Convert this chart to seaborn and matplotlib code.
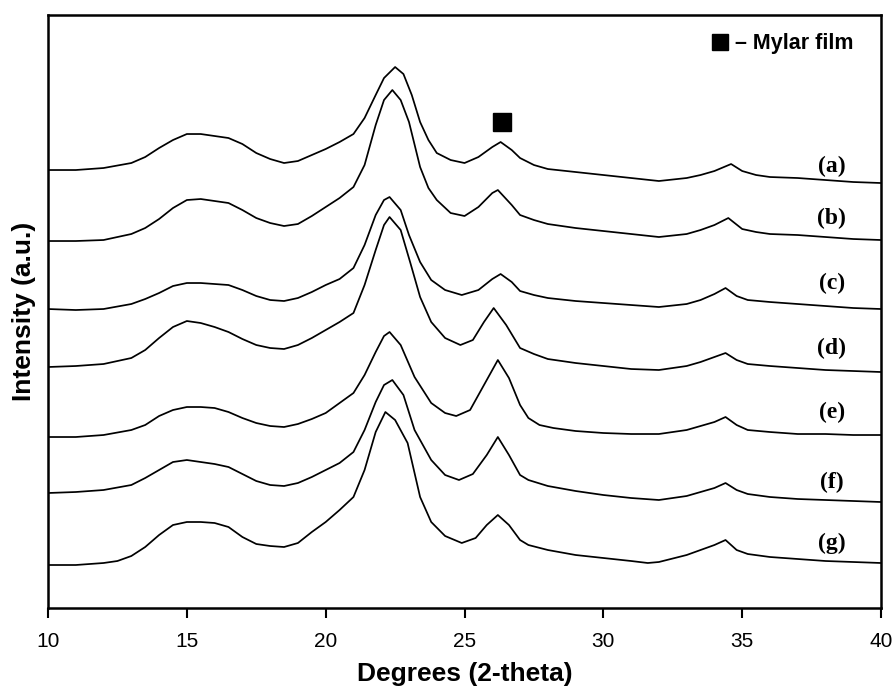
import matplotlib
matplotlib.use("Agg")
import matplotlib.pyplot as plt
import seaborn as sns
import pandas as pd
from matplotlib.lines import Line2D

# XRD patterns; intensity in a.u., traces already stacked
x_a = [10, 11, 12, 13, 13.5, 14, 14.5, 15, 15.5, 16, 16.5, 17, 17.5, 18, 18.5, 19, 19.5, 20, 20.5, 21,
       21.4, 21.8, 22.1, 22.5, 22.8, 23.1, 23.4, 23.7, 24, 24.5, 25, 25.5, 26, 26.3, 26.7, 27, 27.5, 28, 29, 30,
       31, 32, 33, 33.5, 34, 34.6, 35, 35.5, 36, 37, 38, 39, 40]
int_a = [438, 438, 440, 445, 451, 460, 468, 474, 474, 472, 470, 464, 455, 449, 445, 447, 453, 459, 466, 474,
         490, 513, 530, 541, 534, 513, 486, 468, 455, 448, 445, 451, 461, 466, 458, 450, 443, 439, 436, 433,
         430, 427, 430, 433, 437, 444, 437, 433, 431, 430, 428, 426, 425]

x_b = [10, 11, 12, 13, 13.5, 14, 14.5, 15, 15.5, 16, 16.5, 17, 17.5, 18, 18.5, 19, 19.5, 20, 20.5, 21,
       21.4, 21.8, 22.1, 22.4, 22.7, 23, 23.4, 23.7, 24, 24.5, 25, 25.5, 26, 26.2, 26.7, 27, 27.5, 28, 29, 30,
       31, 32, 33, 33.5, 34, 34.5, 35, 35.5, 36, 37, 38, 39, 40]
int_b = [367, 367, 368, 374, 380, 389, 400, 408, 409, 407, 405, 398, 390, 385, 382, 384, 392, 401, 410, 421,
         443, 483, 508, 518, 508, 486, 441, 420, 408, 395, 392, 401, 415, 418, 403, 393, 388, 384, 380, 377,
         374, 371, 374, 378, 383, 390, 379, 376, 374, 373, 371, 369, 368]

x_c = [10, 11, 12, 13, 13.5, 14, 14.5, 15, 15.5, 16, 16.5, 17, 17.5, 18, 18.5, 19, 19.5, 20, 20.5, 21,
       21.4, 21.8, 22.1, 22.3, 22.7, 23, 23.4, 23.8, 24.3, 24.9, 25.5, 26, 26.3, 26.7, 27, 27.5, 28, 29, 30, 31,
       32, 33, 33.5, 34, 34.4, 34.8, 35.2, 36, 37, 38, 39, 40]
int_c = [299, 298, 299, 304, 309, 315, 322, 325, 325, 324, 323, 318, 312, 308, 307, 310, 316, 323, 329, 340,
         363, 393, 408, 411, 398, 373, 346, 328, 318, 313, 318, 329, 334, 326, 317, 313, 310, 307, 305, 303,
         301, 304, 308, 314, 320, 312, 308, 306, 304, 302, 300, 299]

x_d = [10, 11, 12, 13, 13.5, 14, 14.5, 15, 15.5, 16, 16.5, 17, 17.5, 18, 18.5, 19, 19.5, 20, 20.5, 21,
       21.4, 21.8, 22.1, 22.3, 22.7, 23.05, 23.4, 23.8, 24.3, 24.85, 25.3, 25.7, 26.05, 26.5, 27, 27.5, 28, 29, 30, 31,
       32, 33, 33.5, 34, 34.4, 34.8, 35.2, 36, 37, 38, 39, 40]
int_d = [241, 242, 244, 250, 258, 270, 281, 287, 285, 281, 276, 269, 263, 260, 259, 263, 270, 278, 286, 295,
         323, 358, 383, 391, 378, 345, 311, 286, 270, 263, 268, 286, 300, 283, 260, 254, 249, 245, 242, 239,
         238, 242, 246, 251, 255, 248, 244, 242, 240, 238, 237, 236]

x_e = [10, 11, 12, 13, 13.5, 14, 14.5, 15, 15.5, 16, 16.5, 17, 17.5, 18, 18.5, 19, 19.5, 20, 20.5, 21,
       21.4, 21.8, 22.1, 22.3, 22.7, 23.2, 23.8, 24.3, 24.7, 25.2, 25.7, 26.2, 26.6, 27, 27.3, 27.7, 28.2, 29, 30, 31,
       32, 33, 33.5, 34, 34.4, 34.8, 35.2, 36, 37, 38, 39, 40]
int_e = [171, 171, 173, 178, 183, 192, 198, 201, 201, 200, 196, 190, 185, 182, 181, 184, 189, 195, 205, 215,
         233, 256, 272, 276, 263, 231, 205, 195, 192, 198, 223, 248, 230, 203, 190, 183, 180, 177, 175, 174,
         174, 178, 182, 186, 191, 183, 178, 176, 174, 174, 173, 173]

x_f = [10, 11, 12, 13, 13.5, 14, 14.5, 15, 15.5, 16, 16.5, 17, 17.5, 18, 18.5, 19, 19.5, 20, 20.5, 21,
       21.4, 21.8, 22.1, 22.4, 22.8, 23.2, 23.8, 24.3, 24.8, 25.3, 25.8, 26.2, 26.6, 27, 27.3, 28, 29, 30, 31, 32,
       33, 33.5, 34, 34.4, 34.8, 35.2, 36, 37, 38, 39, 40]
int_f = [115, 116, 118, 123, 130, 138, 146, 148, 146, 144, 141, 134, 127, 123, 122, 125, 131, 138, 145, 156,
         178, 206, 223, 228, 213, 178, 148, 133, 128, 134, 153, 171, 153, 133, 128, 122, 117, 113, 110, 108,
         112, 116, 120, 125, 118, 114, 111, 109, 108, 107, 106]

x_g = [10, 11, 12, 12.5, 13, 13.5, 14, 14.5, 15, 15.5, 16, 16.5, 17, 17.5, 18, 18.5, 19, 19.5, 20, 20.5,
       21, 21.4, 21.8, 22.15, 22.5, 22.95, 23.4, 23.8, 24.3, 24.9, 25.4, 25.8, 26.2, 26.6, 27, 27.3, 28, 29, 30, 31,
       31.6, 32, 33, 33.5, 34, 34.4, 34.8, 35.2, 36, 37, 38, 39, 40]
int_g = [43, 43, 45, 47, 52, 61, 73, 83, 86, 86, 85, 81, 71, 64, 62, 61, 65, 76, 86, 98,
         111, 138, 176, 196, 188, 165, 111, 86, 72, 65, 70, 83, 93, 83, 68, 63, 58, 53, 50, 47,
         45, 46, 53, 58, 63, 68, 58, 54, 51, 49, 47, 46, 45]

sample_labels = ['(a)', '(b)', '(c)', '(d)', '(e)', '(f)', '(g)']

# Mylar film reflection marked above trace (a)
mylar_x = [26.35]
mylar_y = [486]

sns.set_theme(style="white")
plt.rcParams['font.family'] = ['Liberation Sans', 'DejaVu Sans']
plt.rcParams['text.color'] = 'black'
plt.rcParams['axes.labelcolor'] = 'black'

frames = []
for lab, xs, ys in zip(sample_labels,
                       [x_a, x_b, x_c, x_d, x_e, x_f, x_g],
                       [int_a, int_b, int_c, int_d, int_e, int_f, int_g]):
    frames.append(pd.DataFrame({'two_theta': xs, 'intensity': ys, 'sample': lab}))
df = pd.concat(frames, ignore_index=True)

fig = plt.figure(figsize=(8.96, 6.86), dpi=100)
ax = fig.add_axes([0.0536, 0.1137, 0.9297, 0.8644])

sns.lineplot(data=df, x='two_theta', y='intensity', hue='sample', units='sample',
             palette=['black'] * 7, estimator=None, sort=False, legend=False,
             linewidth=1.25, ax=ax)
for ln in ax.lines:
    ln.set_solid_joinstyle('round')
ax.plot(mylar_x, mylar_y, marker='s', linestyle='none', color='black', markersize=13)

# sample labels at the right of each trace
label_y = [442, 390, 325, 260, 196, 126, 65]
for lab, ly in zip(sample_labels, label_y):
    ax.text(38.22, ly, lab, ha='center', va='center', fontsize=17,
            fontweight='bold', family=['Liberation Serif', 'DejaVu Serif'])

handle = Line2D([], [], marker='s', linestyle='none', color='black', markersize=11.5)
ax.legend([handle], ['\u2013 Mylar film'], loc='upper right', frameon=False,
          bbox_to_anchor=(0.985, 0.995), handlelength=0.8, handletextpad=0.3,
          borderpad=0.2, prop={'weight': 'bold', 'size': 15.5})

ax.set_xlim(10, 40)
ax.set_ylim(0, 593)
ax.set_xticks(range(10, 41, 5))
ax.set_yticks([])
ax.tick_params(axis='x', bottom=True, direction='out', length=7, width=1.5,
               color='black', labelcolor='black', labelsize=15, pad=10)
for s in ax.spines.values():
    s.set_linewidth(1.8)
    s.set_color('black')

ax.set_xlabel('Degrees (2-theta)', fontsize=19, fontweight='bold', labelpad=8)
ax.set_ylabel('Intensity (a.u.)', fontsize=19, fontweight='bold', labelpad=9)

fig.savefig('out.png', dpi=100)
